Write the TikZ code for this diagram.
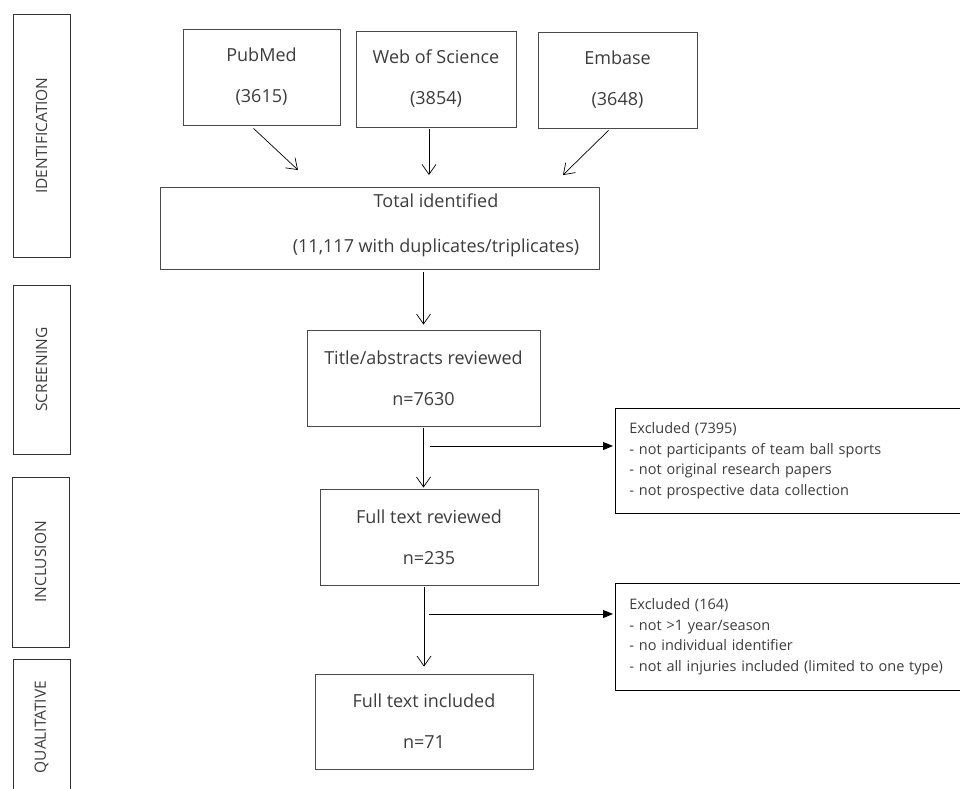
\documentclass[tikz,border=0pt]{standalone}
\usepackage{fontspec}
\setmainfont{Open Sans}
\usetikzlibrary{arrows.meta}
\definecolor{txtgray}{HTML}{3C3C3C}
\definecolor{edgegray}{HTML}{4A4A4A}

\begin{document}
\begin{tikzpicture}[x=1pt,y=-1pt,
  box/.style={draw=edgegray, line width=0.8pt, rectangle, align=center, inner sep=0pt,
    text=txtgray, font=\fontsize{18}{21}\selectfont},
  exclbox/.style={draw=black, line width=0.8pt, rectangle, align=left, inner xsep=14pt,
    anchor=north west, minimum width=350, minimum height=105, text width=322,
    text=txtgray, font=\fontsize{14.5}{20.5}\selectfont},
  side/.style={draw=black!80, line width=0.8pt, rectangle, minimum width=57, inner sep=0pt,
    text=txtgray, font=\fontsize{15.5}{18}\selectfont},
  arr/.style={line width=0.7pt, -{Straight Barb[length=10pt,width=14pt]}},
  branch/.style={line width=0.9pt, -{Triangle[length=10pt,width=8pt]}}]
\useasboundingbox (0,0) rectangle (960,788);

% phases on the left
\node[side, minimum height=243] (ident) at (41.5,135.5) {\rotatebox{90}{IDENTIFICATION}};
\node[side, minimum height=169] (screen) at (41.5,369.5) {\rotatebox{90}{SCREENING}};
\node[side, minimum height=170] (incl) at (40.5,562) {\rotatebox{90}{INCLUSION}};
\node[text=txtgray, font=\fontsize{15.5}{18}\selectfont, inner sep=0pt] (qual) at (41.5,727) {\rotatebox{90}{QUALITATIVE}};
\draw[black!80, line width=0.8pt] (13,792) -- (13,659) -- (70,659) -- (70,792);

% databases
\node[box, minimum width=157, minimum height=96] (pubmed) at (261.5,77) {PubMed\\[20pt](3615)};
\node[box, minimum width=160, minimum height=96] (wos) at (436,79) {Web of Science\\[20pt](3854)};
\node[box, minimum width=159, minimum height=96] (embase) at (617.5,80) {Embase\\[20pt](3648)};

\node[box, minimum width=439, minimum height=82] (total) at (379.5,228) {};
\node[text=txtgray, font=\fontsize{18}{21}\selectfont, align=center, inner sep=0pt] (totaltxt) at (436,225)
  {Total identified\\[24pt](11,117 with duplicates/triplicates)};

\node[box, minimum width=233, minimum height=96] (title) at (423.5,378) {Title/abstracts reviewed\\[20pt]n=7630};
\node[box, minimum width=218, minimum height=96] (review) at (429,537) {Full text reviewed\\[20pt]n=235};
\node[box, minimum width=218, minimum height=95] (included) at (424,721.5) {Full text included\\[20pt]n=71};

\node[exclbox] (excl1) at (615,408) {Excluded (7395)\\
  - not participants of team ball sports\\
  - not original research papers\\
  - not prospective data collection};
\node[exclbox, minimum height=107] (excl2) at (615,583) {Excluded (164)\\
  - not >1 year/season\\
  - no individual identifier\\
  - not all injuries included (limited to one type)};

\coordinate (pm) at (298,170);
\coordinate (ws) at (429,175);
\coordinate (em) at (563,175);
\coordinate (b1) at (430,446);
\coordinate (b2) at (429,614);

\draw[arr] ([xshift=-8pt,yshift=-3pt]pubmed.south) -- (pm);
\draw[arr] ([xshift=-7pt,yshift=-2pt]wos.south) -- (ws);
\draw[arr] ([xshift=-9pt,yshift=-2pt]embase.south) -- (em);
\draw[arr, shorten <=3pt, shorten >=5pt] (title.north |- total.south) -- (title.north);
\draw[arr, shorten <=2pt, shorten >=1pt] (title.south) -- (title.south |- review.north);
\draw[arr, shorten <=2pt, shorten >=7pt] (included.north |- review.south) -- (included.north);
\draw[branch, shorten >=2pt] (b1) -- (b1 -| excl1.west);
\draw[branch, shorten >=2pt] (b2) -- (b2 -| excl2.west);
\end{tikzpicture}
\end{document}
